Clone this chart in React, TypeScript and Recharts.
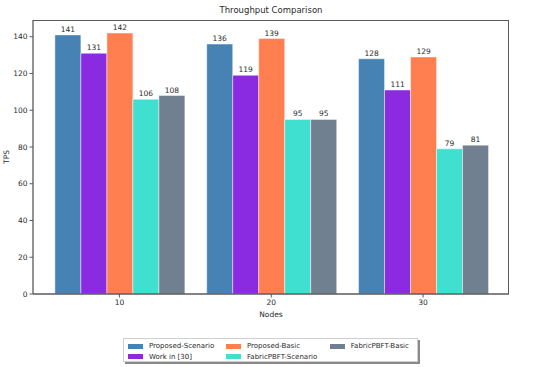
import { BarChart, Bar, XAxis, YAxis, LabelList } from "recharts";

const nodes = ["10", "20", "30"];
const proposedScenario = [141, 136, 128];
const workIn30 = [131, 119, 111];
const proposedBasic = [142, 139, 129];
const fabricScenario = [106, 95, 79];
const fabricBasic = [108, 95, 81];
const yTicks = [0, 20, 40, 60, 80, 100, 120, 140];

const series = [
  { key: "proposedScenario", name: "Proposed-Scenario", color: "#4682B4" },
  { key: "workIn30", name: "Work in [30]", color: "#8A2BE2" },
  { key: "proposedBasic", name: "Proposed-Basic", color: "#FF7F50" },
  { key: "fabricScenario", name: "FabricPBFT-Scenario", color: "#40E0D0" },
  { key: "fabricBasic", name: "FabricPBFT-Basic", color: "#708090" },
];

const data = nodes.map((n, i) => ({
  nodes: n,
  proposedScenario: proposedScenario[i],
  workIn30: workIn30[i],
  proposedBasic: proposedBasic[i],
  fabricScenario: fabricScenario[i],
  fabricBasic: fabricBasic[i],
}));

const font = "'DejaVu Sans', sans-serif";
const textColor = "#2a2a2a";
const spine = "#5a5a5a";
const tick = { fontSize: 7.5, fill: textColor, fontFamily: font };

// legend columns, matplotlib ncol=3 fills column by column
const legendCols = [
  [series[0], series[1]],
  [series[2], series[3]],
  [series[4]],
];

const App = () => {
  return (
    <div style={{ position: "absolute", left: 0, top: 0, width: 536, height: 367, background: "#fff", fontFamily: font }}>
      <div style={{ position: "absolute", left: 33, width: 476, top: 5, textAlign: "center", fontSize: 8.5, color: textColor }}>
        Throughput Comparison
      </div>
      <BarChart
        width={536}
        height={367}
        data={data}
        margin={{ top: 20, right: 27, bottom: 43, left: 0 }}
        barCategoryGap="7.5%"
        barGap={0}
      >
        <XAxis
          dataKey="nodes"
          height={30}
          padding={{ left: 10.5, right: 10 }}
          tick={tick}
          tickSize={3.5}
          tickMargin={2}
          tickLine={{ stroke: spine }}
          axisLine={{ stroke: spine, strokeWidth: 1.3 }}
          label={{ value: "Nodes", position: "insideBottom", offset: 7, style: { fontSize: 7.5, fill: textColor, fontFamily: font } }}
        />
        <YAxis
          width={33}
          domain={[0, 149.1]}
          ticks={yTicks}
          interval={0}
          tick={tick}
          tickSize={3.5}
          tickMargin={2}
          tickLine={{ stroke: spine }}
          axisLine={{ stroke: spine, strokeWidth: 1.3 }}
          label={{ value: "TPS", angle: -90, position: "insideLeft", offset: 6, style: { fontSize: 7.5, fill: textColor, fontFamily: font, textAnchor: "middle" } }}
        />
        {series.map((s) => (
          <Bar
            key={s.key}
            dataKey={s.key}
            name={s.name}
            fill={s.color}
            stroke="#ffffff"
            strokeOpacity={0.45}
            strokeWidth={1}
            isAnimationActive={false}
          >
            <LabelList dataKey={s.key} position="top" offset={3} style={{ fontSize: 7.5, fill: textColor, fontFamily: font }} />
          </Bar>
        ))}
      </BarChart>
      {/* top and right spines */}
      <div
        style={{
          position: "absolute",
          left: 33,
          top: 20,
          width: 476,
          height: 274,
          borderTop: `1.3px solid ${spine}`,
          borderRight: `1.3px solid ${spine}`,
          boxSizing: "border-box",
          pointerEvents: "none",
        }}
      />
      <div
        style={{
          position: "absolute",
          left: 123,
          top: 338,
          width: 295,
          height: 24,
          border: "1px solid #cfcfcf",
          boxShadow: "2px 2px 0 #8a8a8a",
          background: "#fff",
          boxSizing: "border-box",
          display: "flex",
          paddingLeft: 4,
          paddingTop: 2,
          fontSize: 7,
          color: textColor,
        }}
      >
        {legendCols.map((col, ci) => (
          <div key={ci} style={{ width: ci === 0 ? 101 : ci === 1 ? 107 : 90 }}>
            {col.map((s) => (
              <div key={s.key} style={{ display: "flex", alignItems: "center", height: 10.5 }}>
                <span style={{ display: "inline-block", width: 15, height: 5, background: s.color, marginRight: 6 }} />
                <span style={{ whiteSpace: "nowrap" }}>{s.name}</span>
              </div>
            ))}
          </div>
        ))}
      </div>
    </div>
  );
};

export default App;
